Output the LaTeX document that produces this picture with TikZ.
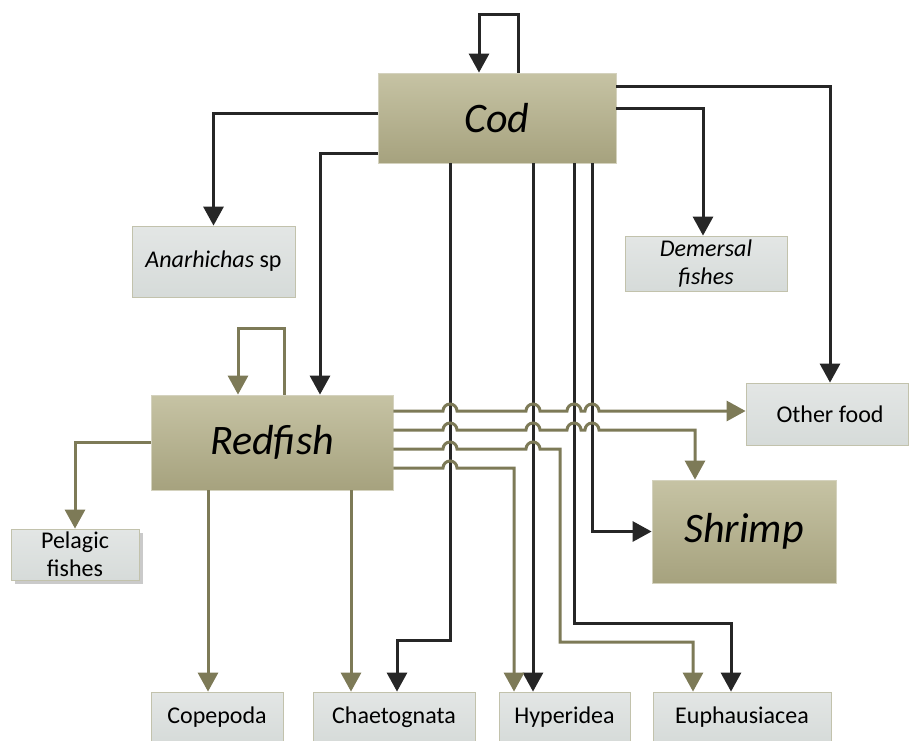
\documentclass[tikz,border=0pt]{standalone}
\usepackage{fontspec}
\setmainfont{Carlito}
\usetikzlibrary{arrows.meta,calc,shadows}
\definecolor{bigtop}{HTML}{C6C3A4}
\definecolor{bigbot}{HTML}{A6A27E}
\definecolor{bigline}{HTML}{D4D2BE}
\definecolor{smtop}{HTML}{E3E6E5}
\definecolor{smbot}{HTML}{D6DBD9}
\definecolor{smline}{HTML}{C2C2AC}
\definecolor{olivec}{HTML}{7D7A57}
\definecolor{blkc}{HTML}{262626}
\begin{document}
\begin{tikzpicture}[x=1pt,y=-1pt,
 bigbox/.style={draw=bigline, line width=0.8pt, top color=bigtop, bottom color=bigbot, inner sep=0pt, font=\fontsize{42}{50}\selectfont\itshape},
 smbox/.style={draw=smline, line width=0.8pt, top color=smtop, bottom color=smbot, inner sep=0pt, align=center, font=\fontsize{24}{28}\selectfont},
 blkarrow/.style={draw=blkc, line width=3pt, -{Triangle[width=20pt,length=19pt]}},
 olarrow/.style={draw=olivec, line width=3pt, -{Triangle[width=20pt,length=19pt]}},
]
\useasboundingbox (0,0) rectangle (909,740);

% nodes
\node[bigbox, minimum width=238pt, minimum height=90pt] (cod) at (497,118) {Cod};
\node[bigbox, minimum width=242pt, minimum height=95pt] (red) at (272,442.5) {Redfish};
\node[bigbox, minimum width=184pt, minimum height=103pt] (shr) at (744,531.5) {Shrimp};
\node[smbox, minimum width=163pt, minimum height=71pt] (ana) at (213.5,261.5) {\textit{Anarhichas} sp};
\node[smbox, minimum width=162pt, minimum height=55pt] (dem) at (706,263.5) {\textit{Demersal}\\\textit{fishes}};
\node[smbox, minimum width=162pt, minimum height=62pt] (oth) at (827,414) {\hspace*{6pt}Other food};
\node[smbox, minimum width=128pt, minimum height=51pt, drop shadow={shadow xshift=4pt,shadow yshift=-4pt,fill=black!35,opacity=0.6}] (pel) at (75,554.5) {Pelagic\\fishes};
\node[smbox, minimum width=132pt, minimum height=50pt] (cop) at (217,717) {Copepoda};
\node[smbox, minimum width=162pt, minimum height=50pt] (cha) at (394,717) {Chaetognata};
\node[smbox, minimum width=131pt, minimum height=50pt] (hyp) at (564.5,717) {Hyperidea};
\node[smbox, minimum width=178pt, minimum height=50pt] (eup) at (742,717) {Euphausiacea};

% Cod connectors
\coordinate (cs1) at ([xshift=21pt]cod.north);
\coordinate (ce1) at ([xshift=-18pt]cod.north);
\coordinate (clp) at (0,14);
\draw[blkarrow] (cs1) -- (cs1 |- clp) -- (ce1 |- clp) -- (ce1);
\draw[blkarrow] ([yshift=5pt]cod.west) -| (ana.north);
\draw[blkarrow] ([yshift=-35pt]cod.west) -| ([xshift=48pt]red.north);
\draw[blkarrow] ([yshift=32pt]cod.east) -| ([xshift=3pt]oth.north);
\draw[blkarrow] ([yshift=10pt]cod.east) -| ([xshift=-3pt]dem.north);
\coordinate (cb1) at ([xshift=-47pt]cod.south);
\coordinate (cb2) at ([xshift=36pt]cod.south);
\coordinate (cb3) at ([xshift=77pt]cod.south);
\coordinate (cb4) at ([xshift=95pt]cod.south);
\coordinate (k1) at (397,640);
\draw[blkarrow] (cb1) |- (k1) -- (k1 |- cha.north);
\draw[blkarrow] (cb2) -- (cb2 |- hyp.north);
\coordinate (k3) at (731,623);
\draw[blkarrow] (cb3) |- (k3) -- (k3 |- eup.north);
\draw[blkarrow] (cb4) |- (shr.west);

% Redfish connectors
\coordinate (rs1) at ([xshift=12pt]red.north);
\coordinate (re1) at ([xshift=-34pt]red.north);
\coordinate (rlp) at (0,328);
\draw[olarrow] (rs1) -- (rs1 |- rlp) -- (re1 |- rlp) -- (re1);
\draw[olarrow] (red.west) -| (pel.north);
\coordinate (rb1) at ([xshift=-64pt]red.south);
\coordinate (rb2) at ([xshift=79pt]red.south);
\draw[olarrow] (rb1) -- (rb1 |- cop.north);
\draw[olarrow] (rb2) -- (rb2 |- cha.north);

\coordinate (ro1) at ([yshift=31.5pt]red.east);
\coordinate (ro2) at ([yshift=12.5pt]red.east);
\coordinate (ro3) at ([yshift=-6.5pt]red.east);
\coordinate (ro4) at ([yshift=-25.5pt]red.east);
\coordinate (k5) at (695,430);
\coordinate (k6) at (693,642);
\coordinate (k7) at (514,468);

\draw[olarrow] (ro1) -- (443,411) arc[start angle=180,end angle=0,radius=7pt]
  -- (526,411) arc[start angle=180,end angle=0,radius=7pt]
  -- (567,411) arc[start angle=180,end angle=0,radius=7pt]
  -- (585,411) arc[start angle=180,end angle=0,radius=7pt]
  -- (ro1 -| oth.west);
\draw[olarrow] (ro2) -- (443,430) arc[start angle=180,end angle=0,radius=7pt]
  -- (526,430) arc[start angle=180,end angle=0,radius=7pt]
  -- (567,430) arc[start angle=180,end angle=0,radius=7pt]
  -- (585,430) arc[start angle=180,end angle=0,radius=7pt]
  -- (k5) -- (k5 |- shr.north);
\draw[olarrow] (ro3) -- (443,449) arc[start angle=180,end angle=0,radius=7pt]
  -- (526,449) arc[start angle=180,end angle=0,radius=7pt]
  -- (560,449) -- (560,642) -- (k6) -- (k6 |- eup.north);
\draw[olarrow] (ro4) -- (443,468) arc[start angle=180,end angle=0,radius=7pt]
  -- (k7) -- (k7 |- hyp.north);
\end{tikzpicture}
\end{document}
